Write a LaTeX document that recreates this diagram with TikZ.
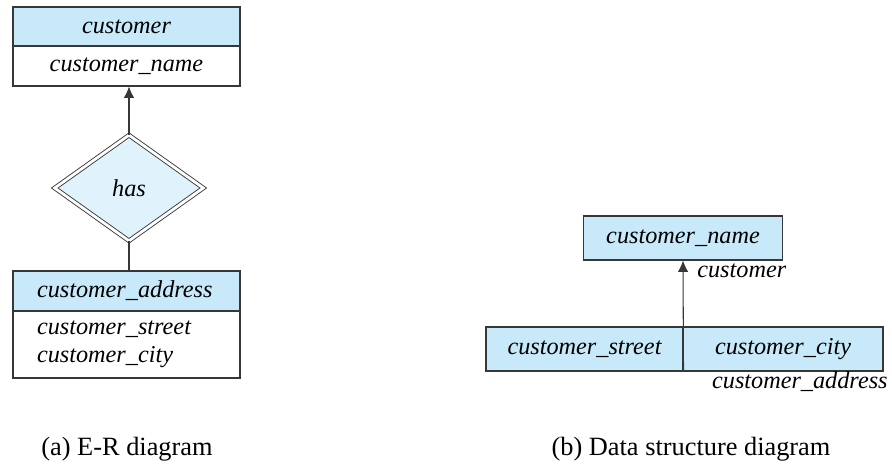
\documentclass[tikz,border=0pt]{standalone}
\usepackage{fontspec}
\setmainfont{Liberation Serif}
\usetikzlibrary{arrows.meta,shapes.geometric}

\definecolor{headblue}{RGB}{199,233,249}
\definecolor{relblue}{RGB}{224,242,251}
\definecolor{linegray}{RGB}{55,55,55}

\begin{document}
\begin{tikzpicture}[x=0.02cm,y=-0.02cm,
  every node/.style={font=\fontsize{13.8}{15.9}\selectfont\itshape},
  ebox/.style={draw=linegray,line width=0.6pt,minimum width=4.54cm,minimum height=0.8cm,inner sep=0pt},
  lbox/.style={ebox,inner xsep=0.48cm,text width=3.58cm,align=left},
  relbox/.style={diamond,draw=linegray,line width=0.5pt,double=white,double distance=1.6pt,
    fill=relblue,minimum width=2.98cm,minimum height=2.12cm,inner sep=0pt},
  dbox/.style={draw=linegray,line width=0.6pt,fill=headblue,minimum height=0.88cm,inner sep=0pt},
  link/.style={draw=linegray,line width=0.6pt},
  tip/.style={-{Latex[length=6.5pt,width=6pt]}},
  caption/.style={font=\fontsize{15}{16}\selectfont\upshape,inner sep=0pt}]

\useasboundingbox (0,0) rectangle (892,469);

% (a) E-R diagram
\node[ebox,fill=headblue,minimum height=0.78cm] (cust) at (126.5,26.5) {customer};
\node[ebox] (custname) at (126.5,66) {customer\_name};

\node[relbox] (has) at (129,188) {has};

\node[lbox,fill=headblue] (addr) at (126.5,291) {customer\_address};
\node[lbox,minimum height=1.34cm] (addrattr) at (126.5,344.5) {customer\_street\\customer\_city};

\draw[link,tip] (has.north) -- (has.north |- custname.south);
\draw[link] (has.south) -- (has.south |- addr.north);

\node[caption,anchor=base] (capa) at (127,455) {(a) E-R diagram};

% (b) Data structure diagram
\node[dbox,minimum width=3.98cm] (dname) at (683,238) {customer\_name};
\node[anchor=base west,inner sep=0pt] (lblcust) at (697,278) {customer};

\node[dbox,minimum width=3.94cm] (dstreet) at (584.5,349) {customer\_street};
\node[dbox,minimum width=4.0cm] (dcity) at (783,349) {customer\_city};
\node[anchor=base east,inner sep=0pt] (lbladdr) at (888,388) {customer\_address};

\draw[link,tip] (dstreet.south east) -- (dname.south);

\node[caption,anchor=base] (capb) at (691,455) {(b) Data structure diagram};

\end{tikzpicture}
\end{document}
